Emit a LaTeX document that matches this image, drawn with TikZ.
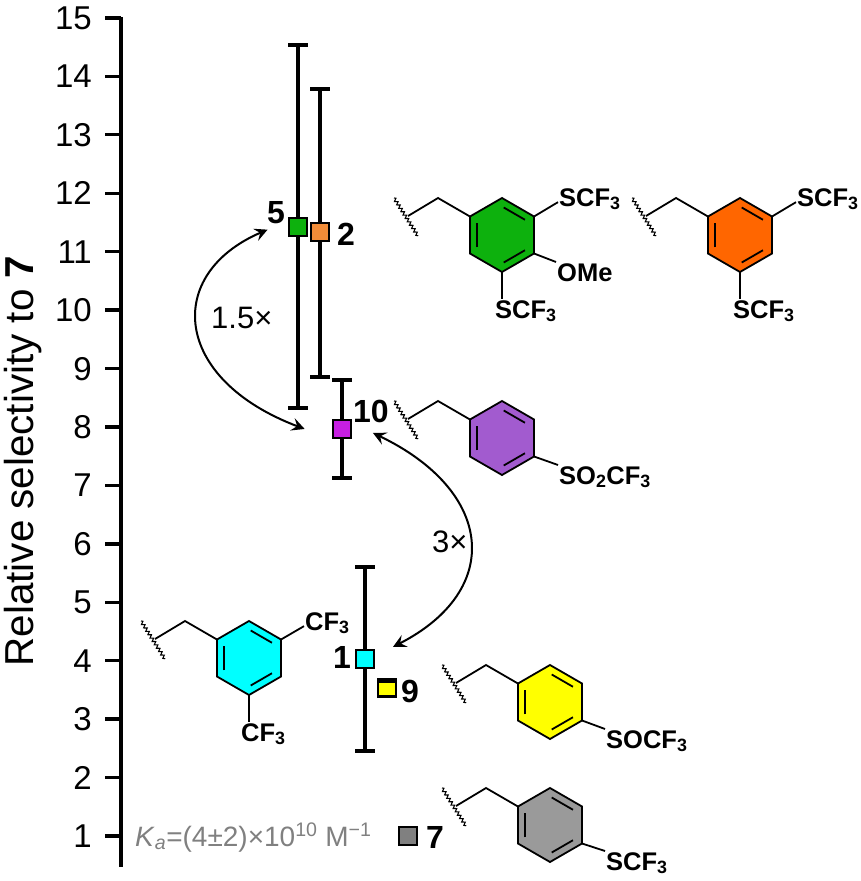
\documentclass[tikz,border=0pt]{standalone}
\usepackage{xcolor}
\usepackage{fontspec}
\usetikzlibrary{arrows.meta,decorations.pathmorphing}
\setmainfont{Liberation Sans}
\definecolor{ringgreen}{HTML}{0DB10D}
\definecolor{ringorange}{HTML}{FF6600}
\definecolor{ringpurple}{HTML}{A25BCF}
\definecolor{ringcyan}{HTML}{00FFFF}
\definecolor{ringyellow}{HTML}{FFFF00}
\definecolor{ringgray}{HTML}{9A9A9A}
\definecolor{dotorange}{HTML}{F28C38}
\definecolor{dotmagenta}{HTML}{C71FE3}
\definecolor{dotgray}{HTML}{808080}
\definecolor{kagray}{HTML}{808080}
\tikzset{
  bond/.style={black, line width=1.8pt},
  wiggle/.style={black, line width=1.1pt, decorate, decoration={snake, amplitude=1.5pt, segment length=4pt}},
  errbar/.style={black, line width=3.3pt},
  marker/.style={draw=black, line width=2.4pt, minimum size=18pt, inner sep=0pt},
  ticklab/.style={font=\fontsize{33}{33}\selectfont, anchor=base east, inner sep=0pt},
  numlab/.style={font=\fontsize{32}{32}\selectfont\bfseries, inner sep=0pt, anchor=base west},
  sublab/.style={font=\fontsize{25.5}{25.5}\selectfont\bfseries, inner sep=1pt, anchor=base west},
  foldlab/.style={font=\fontsize{31}{31}\selectfont, inner sep=0pt, anchor=base west},
  foldarrow/.style={black, line width=2pt, {Stealth[length=13pt,width=13pt,inset=5pt]}-{Stealth[length=13pt,width=13pt,inset=5pt]}},
}
% Ring with side chain: name, x, y, colour
\newcommand{\benzene}[4]{
  \foreach \i/\a in {1/90,2/30,3/-30,4/-90,5/-150,6/150} {
    \coordinate (#1\i) at ({#2+37*cos(\a)},{#3-37*sin(\a)});
    \coordinate (#1i\i) at ({#2+28.5*cos(\a)},{#3-28.5*sin(\a)});
  }
  \filldraw[bond, fill=#4] (#11) -- (#12) -- (#13) -- (#14) -- (#15) -- (#16) -- cycle;
  \draw[bond, shorten >=2pt, shorten <=2pt] (#1i1) -- (#1i2);
  \draw[bond, shorten >=2pt, shorten <=2pt] (#1i3) -- (#1i4);
  \draw[bond, shorten >=2pt, shorten <=2pt] (#1i5) -- (#1i6);
  \coordinate (#1ch) at (#2-64,#3-37);
  \coordinate (#1cut) at (#2-94,#3-19);
  \coordinate (#1wa) at (#2-108,#3-37);
  \coordinate (#1wb) at (#2-84,#3+1);
  \draw[bond] (#16) -- (#1ch) -- (#1cut);
  \draw[wiggle] (#1wa) -- (#1wb);
}
\begin{document}
\begin{tikzpicture}[x=1pt,y=-1pt]
  \useasboundingbox (0,0) rectangle (861,881);
  % Axis
  \coordinate (axtop) at (121,17);
  \coordinate (axbot) at (121,867);
  \draw[errbar] (axtop) -- (axbot);
  \foreach \v in {1,...,15} {
    \coordinate (tick\v) at (121,{836-(\v-1)*58.43});
    \draw[errbar] (tick\v) -- ++(-16,0);
    \node[ticklab] (lab\v) at (92,{836-(\v-1)*58.43+11.5}) {\v};
  }
  \node[rotate=90, inner sep=0pt, font=\fontsize{40.4}{40.4}\selectfont] (axlab) at (23.5,461) {Relative selectivity to \textbf{7}};
  % Error bars
  \foreach \n/\x/\yt/\yb in {a/298/45/408,b/320/89/377,c/342/380/478,d/365/567/751,e/387/680/696} {
    \coordinate (\n t) at (\x,\yt);
    \coordinate (\n b) at (\x,\yb);
    \draw[errbar] (\n t) -- (\n b);
    \draw[errbar] (\x-10,\yt) -- (\x+10,\yt);
    \draw[errbar] (\x-10,\yb) -- (\x+10,\yb);
  }
  % Markers
  \node[marker, fill=ringgreen] (sq5) at (298,227) {};
  \node[marker, fill=dotorange] (sq2) at (320,232) {};
  \node[marker, fill=dotmagenta] (sq10) at (342,429) {};
  \node[marker, fill=ringcyan] (sq1) at (365,659) {};
  \node[marker, fill=ringyellow, minimum height=14pt] (sq9) at (387,689) {};
  \node[marker, fill=dotgray] (sq7) at (408,836) {};
  \node[numlab] (lab5n) at (267,223) {5};
  \node[numlab] (lab2n) at (337,245) {2};
  \node[numlab] (lab10n) at (353,422) {10};
  \node[numlab] (lab1n) at (333,668) {1};
  \node[numlab] (lab9n) at (401,702) {9};
  \node[numlab] (lab7n) at (426,848) {7};
  % Fold arrows
  \draw[foldarrow, shorten <=22pt, shorten >=29pt] ([yshift=6pt]sq5.west) .. controls (164,274) and (172,379) .. (sq10.south west);
  \draw[foldarrow, shorten <=23pt, shorten >=20pt] ([yshift=6pt]sq10.east) .. controls (494,491) and (504,590) .. ([yshift=3pt]sq1.east);
  \node[foldlab] (fold1) at (211,328) {1.5×};
  \node[foldlab] (fold2) at (432,552) {3×};
  \node[font=\fontsize{28}{28}\selectfont, text=kagray, inner sep=0pt, anchor=base west] (ka) at (135,846) {\textit{K}\textsubscript{\textit{a}}=(4±2)×10\textsuperscript{10} M\textsuperscript{−1}};
  % Structures
  \benzene{g}{502}{235}{ringgreen}
  \node[sublab] (gs) at (558,206) {SCF\textsubscript{3}};
  \node[sublab] (go) at (556,281) {OMe};
  \node[sublab] (gb) at (494,318) {SCF\textsubscript{3}};
  \draw[bond] (g2) -- ([yshift=-3pt]gs.west);
  \draw[bond] (g3) -- (go.north west);
  \draw[bond] (g4) -- (g4 |- gb.north);
  \benzene{o}{740}{235}{ringorange}
  \node[sublab] (os) at (796,206) {SCF\textsubscript{3}};
  \node[sublab] (ob) at (732,318) {SCF\textsubscript{3}};
  \draw[bond] (o2) -- ([yshift=-3pt]os.west);
  \draw[bond] (o4) -- (o4 |- ob.north);
  \benzene{p}{502}{438}{ringpurple}
  \node[sublab] (ps) at (558,484) {SO\textsubscript{2}CF\textsubscript{3}};
  \draw[bond] (p3) -- (ps.north west);
  \benzene{c}{249}{658}{ringcyan}
  \node[sublab] (ct) at (304,630) {CF\textsubscript{3}};
  \node[sublab] (cb) at (240,741) {CF\textsubscript{3}};
  \draw[bond] (c2) -- ([yshift=-3pt]ct.west);
  \draw[bond] (c4) -- (c4 |- cb.north);
  \benzene{y}{550}{702}{ringyellow}
  \node[sublab] (ys) at (605,748) {SOCF\textsubscript{3}};
  \draw[bond] (y3) -- (ys.north west);
  \benzene{k}{550}{825}{ringgray}
  \node[sublab] (ks) at (605,870) {SCF\textsubscript{3}};
  \draw[bond] (k3) -- (ks.north west);
\end{tikzpicture}
\end{document}
